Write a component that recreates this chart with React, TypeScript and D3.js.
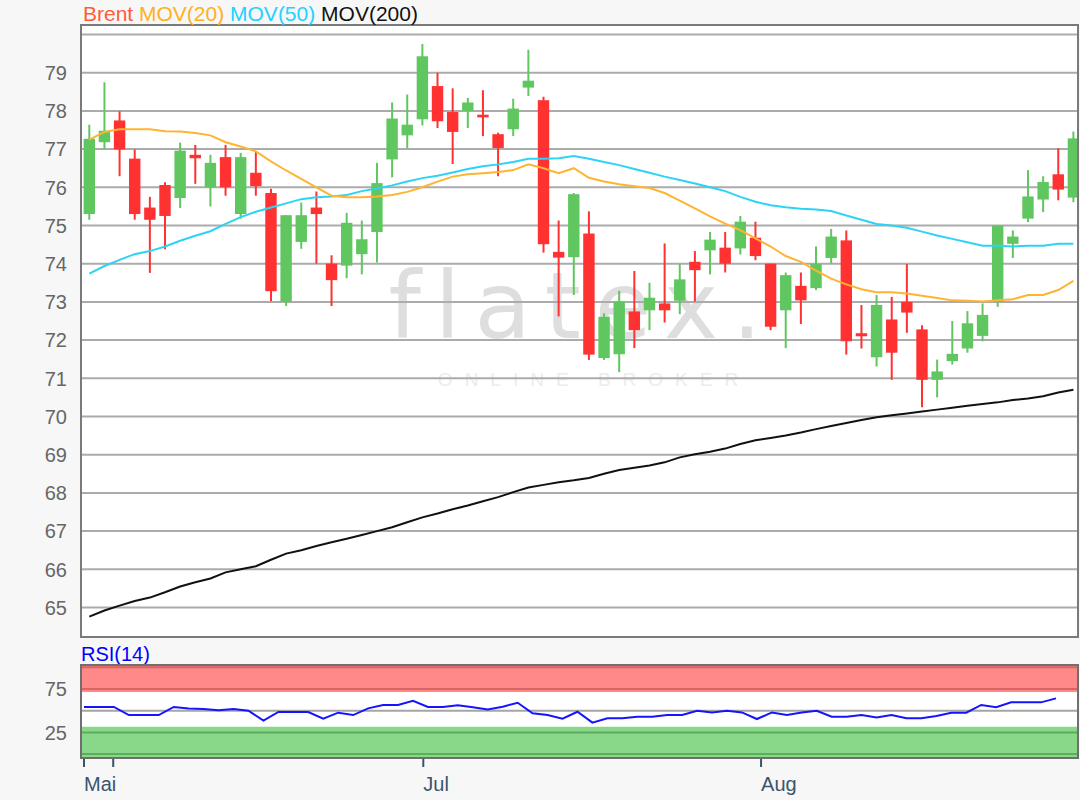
import * as d3 from 'd3';
import { useEffect, useRef } from 'react';

const width = 1080;
const height = 800;
const main = { left: 81, right: 1078, top: 25, bottom: 637 };
const rsiBox = { left: 81, right: 1078, top: 665, bottom: 758 };
const font = '"Liberation Sans", Arial, sans-serif';

// daily candles
const opens = [
  75.3, 77.18, 77.75, 76.75, 75.47, 76.06, 75.72, 76.85, 76.0, 76.79, 75.3, 76.38, 75.85, 73.0, 74.57, 75.47,
  74.0, 73.95, 74.25, 74.83, 76.73, 77.36, 77.78, 78.65, 77.97, 78.0, 77.9, 77.39, 77.52, 78.61, 78.28, 74.31,
  74.17, 74.79, 71.53, 71.63, 72.75, 72.78, 72.96, 73.03, 74.05, 74.35, 74.42, 74.4, 74.68, 74.0, 72.78, 73.42,
  73.36, 74.15, 74.61, 72.18, 71.55, 72.54, 73.0, 72.28, 70.96, 71.45, 71.78, 72.11, 73.0, 74.52, 75.18, 75.68,
  76.34, 75.73,
];
const highs = [
  77.64, 78.75, 77.99, 76.99, 75.75, 76.13, 77.17, 77.11, 76.85, 77.11, 76.9, 76.92, 75.96, 75.27, 75.6, 75.89,
  74.22, 75.33, 75.13, 76.64, 78.22, 78.43, 79.75, 79.0, 78.59, 78.34, 78.54, 77.43, 78.32, 79.6, 78.37, 75.13,
  75.85, 75.37, 72.7, 73.29, 73.81, 73.5, 74.53, 74.0, 74.33, 74.83, 74.83, 75.25, 75.1, 74.0, 73.77, 73.77,
  74.45, 74.91, 74.87, 72.92, 73.18, 73.13, 73.99, 72.39, 71.49, 72.5, 72.76, 72.96, 75.0, 74.87, 76.45, 76.29,
  77.02, 77.46,
];
const lows = [
  75.15, 76.99, 76.29, 75.15, 73.76, 74.38, 75.46, 76.09, 75.5, 75.78, 75.18, 75.78, 73.02, 72.89, 74.39, 74.0,
  72.89, 73.62, 73.72, 74.03, 76.26, 77.03, 77.62, 77.55, 76.61, 77.55, 77.34, 76.29, 77.34, 78.39, 74.29, 72.62,
  73.18, 71.48, 71.48, 71.16, 71.79, 72.26, 72.46, 72.68, 73.01, 73.72, 73.77, 74.24, 74.09, 72.26, 71.79, 72.42,
  73.31, 74.0, 71.62, 71.78, 71.31, 70.96, 72.19, 70.24, 70.5, 71.36, 71.67, 71.97, 72.87, 74.15, 75.09, 75.35,
  75.66, 75.61,
];
const closes = [
  77.27, 77.48, 76.99, 75.3, 75.15, 75.25, 76.96, 76.76, 76.64, 76.0, 76.79, 76.03, 73.28, 75.27, 75.27, 75.3,
  73.57, 75.07, 74.64, 76.11, 77.8, 77.64, 79.43, 77.73, 77.45, 78.22, 77.83, 77.03, 78.06, 78.79, 74.51, 74.16,
  75.82, 71.62, 72.61, 73.01, 72.26, 73.11, 72.78, 73.59, 73.83, 74.63, 74.0, 75.1, 74.2, 72.35, 73.7, 73.04,
  73.99, 74.71, 71.97, 72.1, 72.92, 71.67, 72.72, 70.96, 71.18, 71.64, 72.44, 72.66, 75.0, 74.71, 75.76, 76.14,
  75.94, 77.28,
];

const mov20 = [
  77.25, 77.45, 77.52, 77.52, 77.52, 77.47, 77.46, 77.42, 77.36, 77.18, 77.07, 76.94, 76.68, 76.44, 76.22, 76.0,
  75.78, 75.74, 75.74, 75.76, 75.8, 75.88, 76.0, 76.15, 76.28, 76.34, 76.37, 76.4, 76.45, 76.6, 76.5, 76.37,
  76.5, 76.25, 76.15, 76.08, 76.03, 75.98, 75.85, 75.65, 75.45, 75.24, 75.05, 74.88, 74.66, 74.45, 74.2, 74.05,
  73.82, 73.61, 73.46, 73.33, 73.25, 73.25, 73.22, 73.16, 73.1, 73.04, 73.03, 73.01, 73.04, 73.07, 73.18, 73.18,
  73.31, 73.55,
];
const mov50 = [
  73.74, 73.94, 74.1, 74.25, 74.33, 74.45, 74.6, 74.73, 74.85, 75.04, 75.22, 75.36, 75.47, 75.58, 75.69, 75.74,
  75.76, 75.8, 75.9, 75.97, 76.05, 76.15, 76.24, 76.3, 76.39, 76.48, 76.55, 76.6, 76.66, 76.75, 76.75, 76.76,
  76.82, 76.75, 76.66, 76.58, 76.48, 76.38, 76.28, 76.19, 76.1, 76.0, 75.9, 75.75, 75.62, 75.53, 75.48, 75.44,
  75.42, 75.38, 75.26, 75.15, 75.04, 75.0, 74.94, 74.84, 74.74, 74.65, 74.56, 74.47, 74.47, 74.45, 74.47, 74.47,
  74.52, 74.52,
];
const mov200 = [
  64.76, 64.92, 65.05, 65.17, 65.26, 65.4, 65.55, 65.66, 65.76, 65.92, 66.0, 66.08, 66.25, 66.41, 66.5, 66.61,
  66.71, 66.8, 66.9, 67.0, 67.1, 67.23, 67.36, 67.46, 67.57, 67.67, 67.78, 67.89, 68.02, 68.14, 68.21, 68.28,
  68.33, 68.39, 68.5, 68.6, 68.66, 68.72, 68.8, 68.93, 69.01, 69.08, 69.16, 69.28, 69.38, 69.44, 69.5, 69.58,
  69.67, 69.75, 69.83, 69.91, 69.98, 70.03, 70.08, 70.13, 70.18, 70.23, 70.28, 70.33, 70.37, 70.43, 70.47, 70.53,
  70.63, 70.7,
];
const rsi14 = [
  54.3, 54.3, 54.3, 45, 45, 45, 54.3, 52.4, 52, 50.4, 52, 50, 38.5, 48.5, 48.5, 48.5,
  40.8, 47.7, 45, 52.7, 56.6, 56.6, 61.5, 54.3, 54.3, 56.2, 53.9, 51.5, 54.6, 59.2, 47, 45,
  40.8, 48.8, 36.2, 41.2, 41.2, 43.1, 43.1, 45, 45, 50, 48, 50, 48, 40.4, 48, 45,
  48, 50, 43.1, 43.1, 45, 42.3, 45, 41.2, 41.2, 43.9, 47.7, 47.7, 56.6, 53.9, 59.6, 59.6,
  59.6, 64.2,
];

const priceTicks = [65, 66, 67, 68, 69, 70, 71, 72, 73, 74, 75, 76, 77, 78, 79, 80];
const priceLabels = [65, 66, 67, 68, 69, 70, 71, 72, 73, 74, 75, 76, 77, 78, 79];
const rsiLabels = [75, 25];
// month ticks, in candle units
const monthLabels = ['Mai', '', 'Jul', 'Aug'];
const monthAt = [-0.35, 1.58, 22.06, 44.37];

const green = '#60c760';
const red = '#ff3131';

function App() {
  const ref = useRef<SVGSVGElement>(null);

  useEffect(() => {
    const svg = d3.select(ref.current);
    svg.selectAll('*').remove();

    const idx = d3.range(closes.length);
    const x = d3.scaleLinear().domain([0, closes.length - 1]).range([89.3, 1073.4]);
    const y = d3.scaleLinear().domain([64, 80]).range([645.7, 34.5]);
    const xr = d3.scaleLinear().domain([0, rsi14.length - 1]).range([84, 1056]);
    const yr = d3.scaleLinear().domain([0, 100]).range([754.1, 667.3]);

    svg.append('rect').attr('width', width).attr('height', height).attr('fill', '#f7f7f7');

    // main panel
    svg
      .append('defs')
      .append('clipPath')
      .attr('id', 'mainClip')
      .append('rect')
      .attr('x', main.left)
      .attr('y', main.top)
      .attr('width', main.right - main.left)
      .attr('height', main.bottom - main.top);

    svg
      .append('rect')
      .attr('x', main.left)
      .attr('y', main.top)
      .attr('width', main.right - main.left)
      .attr('height', main.bottom - main.top)
      .attr('fill', '#fff');

    // watermark
    svg
      .append('text')
      .attr('x', 582)
      .attr('y', 338)
      .attr('text-anchor', 'middle')
      .attr('font-family', '"DejaVu Sans", sans-serif')
      .attr('font-size', 92)
      .attr('letter-spacing', 14)
      .attr('fill', '#dedede')
      .text('flatex.');
    svg
      .append('text')
      .attr('x', 594)
      .attr('y', 386)
      .attr('text-anchor', 'middle')
      .attr('font-family', font)
      .attr('font-size', 19)
      .attr('letter-spacing', 12)
      .attr('fill', '#ececec')
      .text('ONLINE BROKER');

    svg
      .append('g')
      .selectAll('line')
      .data(priceTicks)
      .join('line')
      .attr('x1', main.left)
      .attr('x2', main.right)
      .attr('y1', (d) => y(d))
      .attr('y2', (d) => y(d))
      .attr('stroke', '#ababab')
      .attr('stroke-width', 2);

    svg
      .append('g')
      .selectAll('text')
      .data(priceLabels)
      .join('text')
      .attr('x', 67)
      .attr('y', (d) => y(d))
      .attr('dy', '0.36em')
      .attr('text-anchor', 'end')
      .attr('font-family', font)
      .attr('font-size', 20)
      .attr('fill', '#666')
      .text((d) => d);

    const plot = svg.append('g').attr('clip-path', 'url(#mainClip)');

    const candles = plot
      .append('g')
      .selectAll('g')
      .data(idx)
      .join('g');
    candles
      .append('line')
      .attr('x1', (i) => x(i))
      .attr('x2', (i) => x(i))
      .attr('y1', (i) => y(highs[i]))
      .attr('y2', (i) => y(lows[i]))
      .attr('stroke', (i) => (closes[i] >= opens[i] ? green : red))
      .attr('stroke-width', 2);
    candles
      .append('rect')
      .attr('x', (i) => x(i) - 5.7)
      .attr('width', 11.4)
      .attr('y', (i) => y(Math.max(opens[i], closes[i])))
      .attr('height', (i) => Math.max(2, Math.abs(y(opens[i]) - y(closes[i]))))
      .attr('fill', (i) => (closes[i] >= opens[i] ? green : red));

    const line = (vals: number[]) =>
      d3
        .line<number>()
        .x((i) => x(i))
        .y((i) => y(vals[i]))(idx);

    plot.append('path').attr('d', line(mov200)).attr('fill', 'none').attr('stroke', '#111').attr('stroke-width', 2);
    plot.append('path').attr('d', line(mov50)).attr('fill', 'none').attr('stroke', '#2dd3f5').attr('stroke-width', 2);
    plot.append('path').attr('d', line(mov20)).attr('fill', 'none').attr('stroke', '#ffb431').attr('stroke-width', 2);

    svg
      .append('rect')
      .attr('x', main.left)
      .attr('y', main.top)
      .attr('width', main.right - main.left)
      .attr('height', main.bottom - main.top)
      .attr('fill', 'none')
      .attr('stroke', '#7a7a7a')
      .attr('stroke-width', 2);

    // legend
    const legend = svg
      .append('text')
      .attr('x', 83)
      .attr('y', 21)
      .attr('font-family', font)
      .attr('font-size', 21);
    legend.append('tspan').attr('fill', '#ff5c38').text('Brent ');
    legend.append('tspan').attr('fill', '#ffb020').text('MOV(20) ');
    legend.append('tspan').attr('fill', '#22d2ff').text('MOV(50) ');
    legend.append('tspan').attr('fill', '#111').text('MOV(200)');

    // RSI panel
    svg
      .append('text')
      .attr('x', 81)
      .attr('y', 661)
      .attr('font-family', font)
      .attr('font-size', 20)
      .attr('fill', '#0000ff')
      .text('RSI(14)');

    svg
      .append('rect')
      .attr('x', rsiBox.left)
      .attr('y', rsiBox.top)
      .attr('width', rsiBox.right - rsiBox.left)
      .attr('height', rsiBox.bottom - rsiBox.top)
      .attr('fill', '#fff');
    svg
      .append('rect')
      .attr('x', rsiBox.left)
      .attr('y', rsiBox.top)
      .attr('width', rsiBox.right - rsiBox.left)
      .attr('height', yr(71.5) - rsiBox.top)
      .attr('fill', '#ff8989');
    svg
      .append('rect')
      .attr('x', rsiBox.left)
      .attr('y', yr(31.5))
      .attr('width', rsiBox.right - rsiBox.left)
      .attr('height', rsiBox.bottom - yr(31.5))
      .attr('fill', '#89d789');

    const rsiLines = [
      { v: 100, c: '#d86464' },
      { v: 75, c: '#d86464' },
      { v: 50, c: '#a5a5a5' },
      { v: 25, c: '#5ead5e' },
      { v: 0, c: '#5ead5e' },
    ];
    svg
      .append('g')
      .selectAll('line')
      .data(rsiLines)
      .join('line')
      .attr('x1', rsiBox.left)
      .attr('x2', rsiBox.right)
      .attr('y1', (d) => yr(d.v))
      .attr('y2', (d) => yr(d.v))
      .attr('stroke', (d) => d.c)
      .attr('stroke-width', 2);

    svg
      .append('path')
      .attr(
        'd',
        d3
          .line<number>()
          .x((i) => xr(i))
          .y((i) => yr(rsi14[i]))(d3.range(rsi14.length))
      )
      .attr('fill', 'none')
      .attr('stroke', '#1414ff')
      .attr('stroke-width', 2);

    svg
      .append('rect')
      .attr('x', rsiBox.left)
      .attr('y', rsiBox.top)
      .attr('width', rsiBox.right - rsiBox.left)
      .attr('height', rsiBox.bottom - rsiBox.top)
      .attr('fill', 'none')
      .attr('stroke', '#6f6f6f')
      .attr('stroke-width', 2);

    svg
      .append('g')
      .selectAll('text')
      .data(rsiLabels)
      .join('text')
      .attr('x', 67)
      .attr('y', (d) => yr(d))
      .attr('dy', '0.36em')
      .attr('text-anchor', 'end')
      .attr('font-family', font)
      .attr('font-size', 20)
      .attr('fill', '#666')
      .text((d) => d);

    // month axis
    const months = svg.append('g').selectAll('g').data(monthAt).join('g');
    months
      .append('line')
      .attr('x1', (d) => x(d))
      .attr('x2', (d) => x(d))
      .attr('y1', rsiBox.bottom + 1)
      .attr('y2', rsiBox.bottom + 9)
      .attr('stroke', '#3b546c')
      .attr('stroke-width', 2);
    months
      .append('text')
      .attr('x', (d) => x(d))
      .attr('y', 791)
      .attr('font-family', font)
      .attr('font-size', 20)
      .attr('fill', '#3b546c')
      .text((_, i) => monthLabels[i]);
  }, []);

  return (
    <div style={{ position: 'absolute', left: 0, top: 0 }}>
      <svg ref={ref} width={width} height={height} style={{ display: 'block' }} />
    </div>
  );
}

export default App;
